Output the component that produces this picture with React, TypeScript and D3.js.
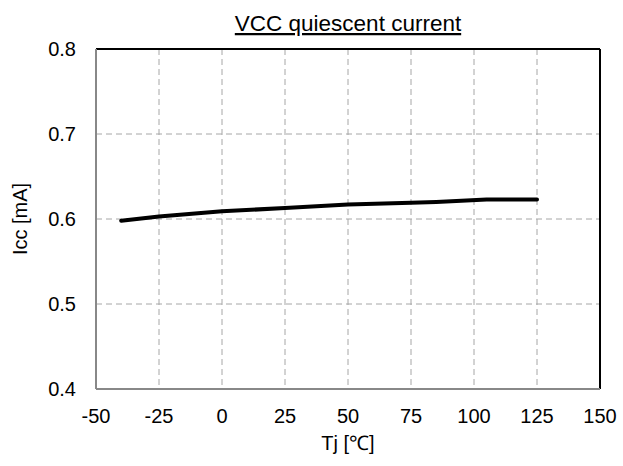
import React from "react";
import * as d3 from "d3";

const temps = [-40, -25, 0, 25, 50, 75, 85, 105, 125];
const icc = [0.598, 0.603, 0.609, 0.613, 0.617, 0.619, 0.620, 0.623, 0.623];
const xTicks = [-50, -25, 0, 25, 50, 75, 100, 125, 150];
const yTicks = [0.4, 0.5, 0.6, 0.7, 0.8];

const W = 623, H = 466;
const L = 96, R = 600, T = 49, B = 389;
const FONT = "'Liberation Sans', Arial, sans-serif";

export default function App() {
  const x = d3.scaleLinear().domain([-50, 150]).range([L, R]);
  const y = d3.scaleLinear().domain([0.4, 0.8]).range([B, T]);
  const line = d3.line<number>().x((_, i) => x(temps[i])).y((d) => y(d));
  return (
    <svg width={W} height={H} style={{ position: "absolute", left: 0, top: 0, background: "#fff" }}>
      <rect x={0} y={0} width={W} height={H} fill="#fff" />
      {xTicks.slice(1, -1).map((t) => (
        <line key={"gx" + t} x1={x(t)} x2={x(t)} y1={T} y2={B} stroke="#a6a6a6" strokeWidth={1} strokeDasharray="6,4" />
      ))}
      {yTicks.slice(1, -1).map((t) => (
        <line key={"gy" + t} x1={L} x2={R} y1={y(t)} y2={y(t)} stroke="#a6a6a6" strokeWidth={1} strokeDasharray="6,4" />
      ))}
      <line x1={L} x2={R} y1={T} y2={T} stroke="#000" strokeWidth={2} />
      <line x1={R} x2={R} y1={T} y2={B} stroke="#000" strokeWidth={2} />
      <line x1={L} x2={L} y1={T} y2={B} stroke="#888" strokeWidth={2} />
      <line x1={L} x2={R} y1={B} y2={B} stroke="#888" strokeWidth={2} />
      <path d={line(icc) || ""} fill="none" stroke="#000" strokeWidth={4} strokeLinecap="round" strokeLinejoin="round" />
      {xTicks.map((t) => (
        <text key={"xt" + t} x={x(t)} y={B + 34} textAnchor="middle" fontFamily={FONT} fontSize={20} fill="#000">
          {t}
        </text>
      ))}
      {yTicks.map((t) => (
        <text key={"yt" + t} x={L - 20} y={y(t) + 7} textAnchor="end" fontFamily={FONT} fontSize={20} fill="#000">
          {t.toFixed(1)}
        </text>
      ))}
      <text x={(L + R) / 2} y={31} textAnchor="middle" fontFamily={FONT} fontSize={22.5} fill="#000" textDecoration="underline">
        VCC quiescent current
      </text>
      <text x={(L + R) / 2} y={450} textAnchor="middle" fontFamily={FONT} fontSize={20} fill="#000">
        Tj [℃]
      </text>
      <text transform={`translate(27,${(T + B) / 2}) rotate(-90)`} textAnchor="middle" fontFamily={FONT} fontSize={20} fill="#000">
        Icc [mA]
      </text>
    </svg>
  );
}
